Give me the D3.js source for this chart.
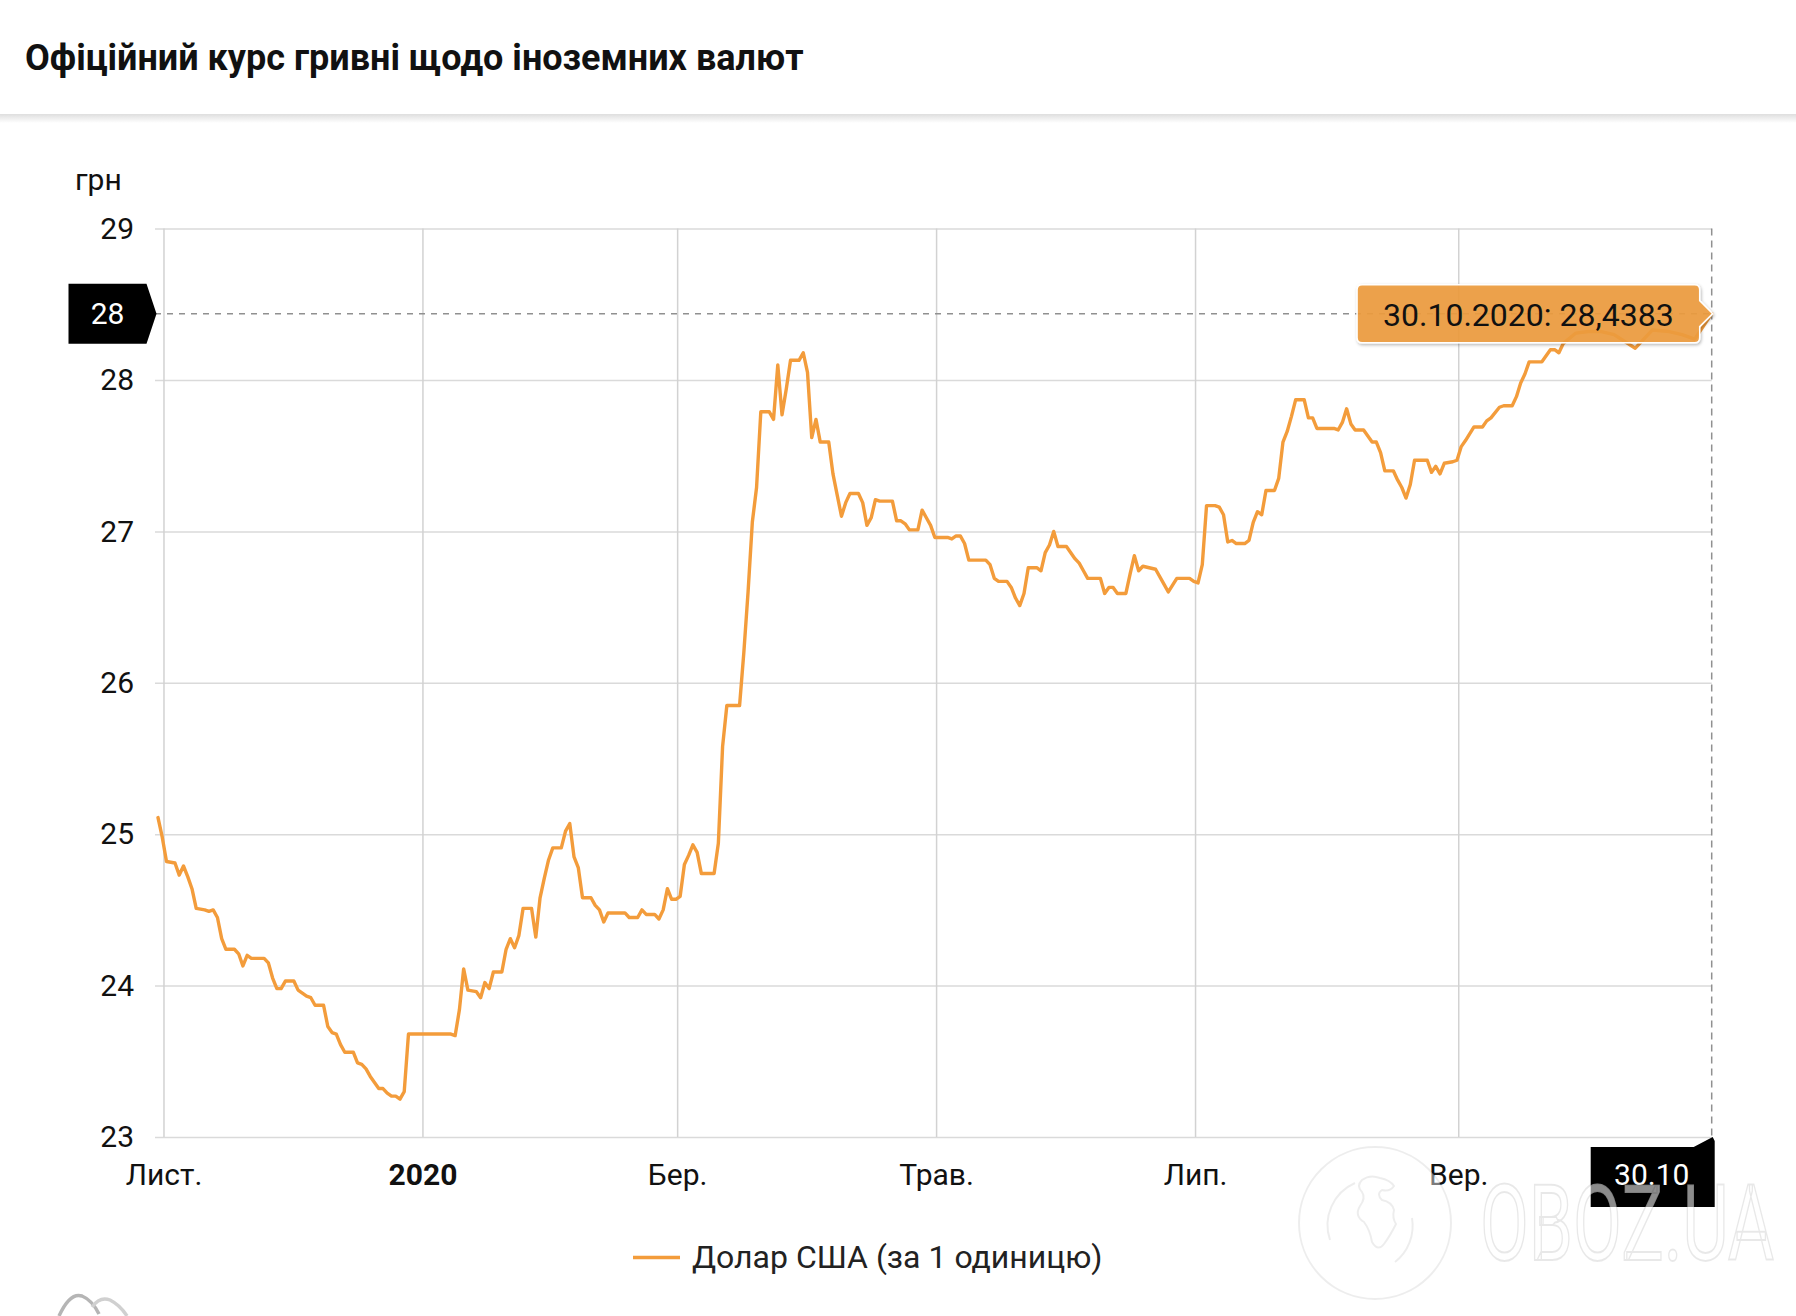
<!DOCTYPE html>
<html><head><meta charset="utf-8">
<script src="https://cdn.jsdelivr.net/npm/d3@7"></script>
<style>
html,body{margin:0;padding:0;background:#fff;}
svg{display:block;font-family:Roboto,"Noto Sans",sans-serif;}
</style></head><body>
<svg id="chart" width="1796" height="1316"></svg>
<script>
// ---------- data ----------
const chartTitle = "Офіційний курс гривні щодо іноземних валют";
const unitLabel = "грн";
const seriesName = "Долар США (за 1 одиницю)";
const yTicks = [23, 24, 25, 26, 27, 28, 29];
const monthTicks = ["2019-11-01", "2020-01-01", "2020-03-01", "2020-05-01", "2020-07-01", "2020-09-01"];
const monthLabels = ["Лист.", "2020", "Бер.", "Трав.", "Лип.", "Вер."];
const boldLabels = ["2020"];
const crossDate = "2020-10-30";
const crossValue = 28.4383;

const dates = [
"2019-10-30","2019-10-31","2019-11-01","2019-11-03","2019-11-04","2019-11-05","2019-11-06","2019-11-07","2019-11-08","2019-11-10",
"2019-11-11","2019-11-12","2019-11-13","2019-11-14","2019-11-15","2019-11-17","2019-11-18","2019-11-19","2019-11-20","2019-11-21",
"2019-11-24","2019-11-25","2019-11-26","2019-11-27","2019-11-28","2019-11-29","2019-12-01","2019-12-02","2019-12-03","2019-12-04",
"2019-12-05","2019-12-06","2019-12-08","2019-12-09","2019-12-10","2019-12-11","2019-12-12","2019-12-13","2019-12-15","2019-12-16",
"2019-12-17","2019-12-18","2019-12-19","2019-12-20","2019-12-21","2019-12-22","2019-12-23","2019-12-24","2019-12-25","2019-12-26",
"2019-12-27","2019-12-28","2020-01-07","2020-01-08","2020-01-09","2020-01-10","2020-01-11","2020-01-13","2020-01-14","2020-01-15",
"2020-01-16","2020-01-17","2020-01-19","2020-01-20","2020-01-21","2020-01-22","2020-01-23","2020-01-24","2020-01-26","2020-01-27",
"2020-01-28","2020-01-29","2020-01-30","2020-01-31","2020-02-02","2020-02-03","2020-02-04","2020-02-05","2020-02-06","2020-02-07",
"2020-02-09","2020-02-10","2020-02-11","2020-02-12","2020-02-13","2020-02-17","2020-02-18","2020-02-20","2020-02-21","2020-02-22",
"2020-02-24","2020-02-25","2020-02-26","2020-02-27","2020-02-28","2020-02-29","2020-03-01","2020-03-02","2020-03-03","2020-03-04",
"2020-03-05","2020-03-06","2020-03-09","2020-03-10","2020-03-11","2020-03-12","2020-03-15","2020-03-16","2020-03-17","2020-03-18",
"2020-03-19","2020-03-20","2020-03-22","2020-03-23","2020-03-24","2020-03-25","2020-03-26","2020-03-27","2020-03-29","2020-03-30",
"2020-03-31","2020-04-01","2020-04-02","2020-04-03","2020-04-05","2020-04-06","2020-04-07","2020-04-08","2020-04-09","2020-04-10",
"2020-04-12","2020-04-13","2020-04-14","2020-04-15","2020-04-16","2020-04-17","2020-04-20","2020-04-21","2020-04-22","2020-04-23",
"2020-04-24","2020-04-26","2020-04-27","2020-04-28","2020-04-29","2020-04-30","2020-05-03","2020-05-04","2020-05-05","2020-05-06",
"2020-05-07","2020-05-08","2020-05-12","2020-05-13","2020-05-14","2020-05-15","2020-05-17","2020-05-18","2020-05-19","2020-05-20",
"2020-05-21","2020-05-22","2020-05-24","2020-05-25","2020-05-26","2020-05-27","2020-05-28","2020-05-29","2020-05-31","2020-06-02",
"2020-06-03","2020-06-04","2020-06-05","2020-06-08","2020-06-09","2020-06-10","2020-06-11","2020-06-12","2020-06-14","2020-06-15",
"2020-06-16","2020-06-17","2020-06-18","2020-06-21","2020-06-23","2020-06-24","2020-06-26","2020-06-29","2020-06-30","2020-07-01",
"2020-07-02","2020-07-03","2020-07-05","2020-07-06","2020-07-07","2020-07-08","2020-07-09","2020-07-10","2020-07-12","2020-07-13",
"2020-07-14","2020-07-15","2020-07-16","2020-07-17","2020-07-19","2020-07-20","2020-07-21","2020-07-22","2020-07-23","2020-07-24",
"2020-07-26","2020-07-27","2020-07-28","2020-07-29","2020-07-31","2020-08-02","2020-08-03","2020-08-04","2020-08-05","2020-08-06",
"2020-08-07","2020-08-09","2020-08-10","2020-08-11","2020-08-12","2020-08-13","2020-08-14","2020-08-16","2020-08-17","2020-08-18",
"2020-08-19","2020-08-20","2020-08-21","2020-08-24","2020-08-25","2020-08-26","2020-08-27","2020-08-28","2020-08-30","2020-08-31",
"2020-09-01","2020-09-02","2020-09-04","2020-09-06","2020-09-07","2020-09-08","2020-09-10","2020-09-11","2020-09-13","2020-09-14",
"2020-09-15","2020-09-16","2020-09-17","2020-09-20","2020-09-21","2020-09-22","2020-09-23","2020-09-24","2020-09-25","2020-09-28",
"2020-10-01","2020-10-04","2020-10-07","2020-10-12","2020-10-14","2020-10-16","2020-10-20","2020-10-23","2020-10-26","2020-10-30"
];
const usd = [
25.11,24.98,24.82,24.81,24.73,24.79,24.72,24.64,24.51,24.50,
24.49,24.50,24.45,24.31,24.24,24.24,24.21,24.13,24.20,24.18,
24.18,24.15,24.05,23.98,23.98,24.03,24.03,23.97,23.95,23.93,
23.92,23.87,23.87,23.73,23.69,23.68,23.61,23.56,23.56,23.49,
23.48,23.45,23.40,23.36,23.32,23.32,23.29,23.27,23.27,23.25,
23.30,23.68,23.68,23.67,23.84,24.11,23.97,23.96,23.92,24.02,
23.98,24.09,24.09,24.24,24.31,24.25,24.33,24.51,24.51,24.32,
24.58,24.71,24.83,24.91,24.91,25.02,25.07,24.85,24.78,24.58,
24.58,24.53,24.50,24.42,24.48,24.48,24.45,24.45,24.50,24.47,
24.47,24.44,24.50,24.64,24.57,24.57,24.59,24.80,24.86,24.93,
24.88,24.74,24.74,24.94,25.58,25.85,25.85,26.20,26.60,27.06,
27.29,27.79,27.79,27.74,28.10,27.77,27.94,28.13,28.13,28.18,
28.05,27.62,27.74,27.59,27.59,27.38,27.24,27.10,27.19,27.25,
27.25,27.19,27.04,27.09,27.21,27.20,27.20,27.07,27.07,27.05,
27.01,27.01,27.14,27.09,27.04,26.96,26.96,26.95,26.97,26.97,
26.92,26.81,26.81,26.78,26.69,26.67,26.67,26.63,26.56,26.51,
26.59,26.76,26.76,26.74,26.86,26.91,27.00,26.90,26.90,26.82,
26.79,26.74,26.69,26.69,26.59,26.63,26.63,26.59,26.59,26.72,
26.84,26.74,26.77,26.75,26.65,26.60,26.69,26.69,26.67,26.66,
26.78,27.17,27.17,27.16,27.11,26.93,26.94,26.92,26.92,26.94,
27.06,27.13,27.11,27.27,27.27,27.35,27.59,27.66,27.76,27.87,
27.87,27.75,27.75,27.68,27.68,27.68,27.67,27.72,27.81,27.71,
27.67,27.67,27.63,27.59,27.59,27.52,27.40,27.40,27.34,27.29,
27.22,27.31,27.47,27.47,27.39,27.43,27.38,27.45,27.46,27.47,
27.56,27.60,27.69,27.69,27.73,27.75,27.82,27.83,27.83,27.89,
27.98,28.04,28.12,28.12,28.16,28.20,28.20,28.18,28.24,28.31,
28.32,28.32,28.30,28.21,28.27,28.33,28.32,28.30,28.27,28.4383
];

// ---------- setup ----------
const svg = d3.select("#chart");
const parse = d3.utcParse("%Y-%m-%d");
const POINT_HOUR = 17; // rate timestamps sit late in the day
const stamp = s => d3.utcHour.offset(parse(s), POINT_HOUR);
const series = dates.map((d, i) => ({ t: stamp(d), v: usd[i] }));

const plot = { left: 155, right: 1711.7, top: 228.6, bottom: 1137 };
const x = d3.scaleUtc().domain([parse("2019-10-30"), stamp(crossDate)]).range([plot.left, plot.right]);
const y = d3.scaleLinear().domain([23, 29]).range([plot.bottom, plot.top]);

const LINE = "#f39c3b";
const GRID = "#dadada";

// header
svg.append("rect").attr("x", 0).attr("y", 0).attr("width", 1796).attr("height", 115).attr("fill", "#fff");
const defs = svg.append("defs");
const g1 = defs.append("linearGradient").attr("id", "hdrShadow").attr("x1", 0).attr("x2", 0).attr("y1", 0).attr("y2", 1);
g1.append("stop").attr("offset", "0%").attr("stop-color", "#000").attr("stop-opacity", 0.13);
g1.append("stop").attr("offset", "100%").attr("stop-color", "#000").attr("stop-opacity", 0);
svg.append("rect").attr("x", 0).attr("y", 114).attr("width", 1796).attr("height", 9).attr("fill", "url(#hdrShadow)");
svg.append("text").attr("x", 25).attr("y", 70).attr("font-size", 36).attr("font-weight", 700).attr("fill", "#111").text(chartTitle);

const f = defs.append("filter").attr("id", "tipShadow").attr("x", "-10%").attr("y", "-30%").attr("width", "120%").attr("height", "160%");
f.append("feDropShadow").attr("dx", 1).attr("dy", 1.5).attr("stdDeviation", 1.6).attr("flood-color", "#000").attr("flood-opacity", 0.3);

// unit label
svg.append("text").attr("x", 75).attr("y", 190).attr("font-size", 30).attr("fill", "#111").text(unitLabel);

// y grid + labels
const yAxis = d3.axisLeft(y).tickValues(yTicks).tickFormat(d3.format("d"))
  .tickSize(-(plot.right - plot.left)).tickPadding(21);
const gy = svg.append("g").attr("transform", `translate(${plot.left},0)`).call(yAxis);
gy.select(".domain").remove();
gy.selectAll(".tick line").attr("stroke", GRID).attr("stroke-width", 1.5);
gy.selectAll(".tick text").attr("font-size", 30).attr("font-family", "Roboto").attr("fill", "#111").attr("dy", "0.32em");

// x grid + labels
const xAxis = d3.axisBottom(x).tickValues(monthTicks.map(parse))
  .tickFormat((d, i) => monthLabels[i]).tickSize(-(plot.bottom - plot.top)).tickPadding(27);
const gx = svg.append("g").attr("transform", `translate(0,${plot.bottom})`).call(xAxis);
gx.select(".domain").remove();
gx.selectAll(".tick line").attr("stroke", "#d2d2d2").attr("stroke-width", 1.5);
gx.selectAll(".tick text").attr("font-size", 30).attr("font-family", "Roboto").attr("fill", "#111")
  .attr("font-weight", (d, i) => boldLabels.includes(monthLabels[i]) ? 700 : 400);

// crosshairs
const cx = x(stamp(crossDate)), cy = y(crossValue);
svg.append("line").attr("x1", plot.left).attr("x2", cx).attr("y1", cy).attr("y2", cy)
  .attr("stroke", "#909090").attr("stroke-width", 1.5).attr("stroke-dasharray", "6,6");
svg.append("line").attr("x1", cx).attr("x2", cx).attr("y1", plot.top).attr("y2", plot.bottom)
  .attr("stroke", "#909090").attr("stroke-width", 1.5).attr("stroke-dasharray", "7,5");

// series line
const line = d3.line().x(d => x(d.t)).y(d => y(d.v));
svg.append("path").datum(series).attr("d", line).attr("fill", "none").attr("stroke", LINE)
  .attr("stroke-width", 3.4).attr("stroke-linejoin", "round").attr("stroke-linecap", "round");

// y crosshair label
{
  const r = plot.left - 8.5, l = r - 78, t = cy - 30, b = cy + 30;
  svg.append("path").attr("d", `M${l},${t}H${r}L${plot.left + 1.5},${cy}L${r},${b}H${l}Z`).attr("fill", "#000");
  svg.append("text").attr("x", (l + r) / 2).attr("y", cy).attr("dy", "0.35em").attr("text-anchor", "middle")
    .attr("font-size", 30).attr("fill", "#fff").text(d3.format(".0f")(crossValue));
}
// x crosshair label
{
  const r = cx + 3, l = r - 124, t = plot.bottom + 10, b = plot.bottom + 70;
  svg.append("path").attr("d", `M${l},${t}H${cx - 18}L${cx + 1},${plot.bottom}L${r},${plot.bottom + 4}V${b}H${l}Z`).attr("fill", "#000");
  svg.append("text").attr("x", (l + r) / 2 - 1).attr("y", 1185).attr("text-anchor", "middle")
    .attr("font-size", 30).attr("fill", "#fff").text(d3.utcFormat("%d.%m")(parse(crossDate)));
}

// tooltip
{
  const label = d3.utcFormat("%d.%m.%Y")(parse(crossDate)) + ": " + String(crossValue).replace(".", ",");
  const tg = svg.append("g");
  const txt = tg.append("text").attr("font-size", 32).attr("fill", "#111").text(label);
  const w = txt.node().getComputedTextLength();
  const R = cx - 12, L = R - w - 52, T = cy - 29, B = cy + 29, rr = 5;
  const d = `M${L + rr},${T}H${R - rr}Q${R},${T} ${R},${T + rr}V${cy - 13}L${cx + 1},${cy}L${R},${cy + 13}V${B - rr}Q${R},${B} ${R - rr},${B}H${L + rr}Q${L},${B} ${L},${B - rr}V${T + rr}Q${L},${T} ${L + rr},${T}Z`;
  tg.insert("path", "text").attr("d", d).attr("fill", "#ee9c3d").attr("fill-opacity", 0.9)
    .attr("stroke", "#fff").attr("stroke-width", 1.5).attr("filter", "url(#tipShadow)");
  txt.attr("x", L + 26).attr("y", cy + 12);
}

// legend
svg.append("line").attr("x1", 633).attr("x2", 680).attr("y1", 1257.5).attr("y2", 1257.5).attr("stroke", LINE).attr("stroke-width", 3.5);
svg.append("text").attr("x", 692).attr("y", 1268).attr("font-size", 32).attr("fill", "#222").text(seriesName);

// watermark
{
  const wm = svg.append("g");
  wm.append("circle").attr("cx", 1375).attr("cy", 1223).attr("r", 76).attr("fill", "#fff").attr("fill-opacity", 0.45)
    .attr("stroke", "#000").attr("stroke-opacity", 0.07).attr("stroke-width", 2);
  wm.append("path").attr("d", "M1330,1240 A46,46 0 0 1 1355,1183 M1412,1218 A46,46 0 0 1 1395,1262")
    .attr("fill", "none").attr("stroke", "#000").attr("stroke-opacity", 0.07).attr("stroke-width", 2);
  wm.append("path").attr("d", "M1362,1180 q8,-6 18,-2 q10,2 14,8 q-4,6 -12,4 q-6,4 0,10 q10,2 12,10 q-2,8 2,14 q-6,12 -12,20 q-6,8 -12,-2 q-2,-12 -8,-20 q-10,-6 -4,-16 q6,-8 2,-14 q-6,-6 0,-12z")
    .attr("fill", "none").attr("stroke", "#000").attr("stroke-opacity", 0.07).attr("stroke-width", 2);
  wm.append("text").attr("x", 1480).attr("y", 1260).attr("font-size", 105).attr("textLength", 294)
    .attr("lengthAdjust", "spacingAndGlyphs").attr("fill", "#fff").attr("fill-opacity", 0.55)
    .attr("stroke", "#000").attr("stroke-opacity", 0.09).attr("stroke-width", 2).text("OBOZ.UA");
}

// bottom-left logo
svg.append("path").attr("d", "M59,1316 Q70,1292 82,1296 Q92,1300 99,1314").attr("fill", "none").attr("stroke", "#b5b5b5").attr("stroke-width", 3.5);
svg.append("path").attr("d", "M92,1307 Q100,1296 110,1300 Q120,1305 127,1316").attr("fill", "none").attr("stroke", "#d0d0d0").attr("stroke-width", 3.5);
</script>
</body></html>
